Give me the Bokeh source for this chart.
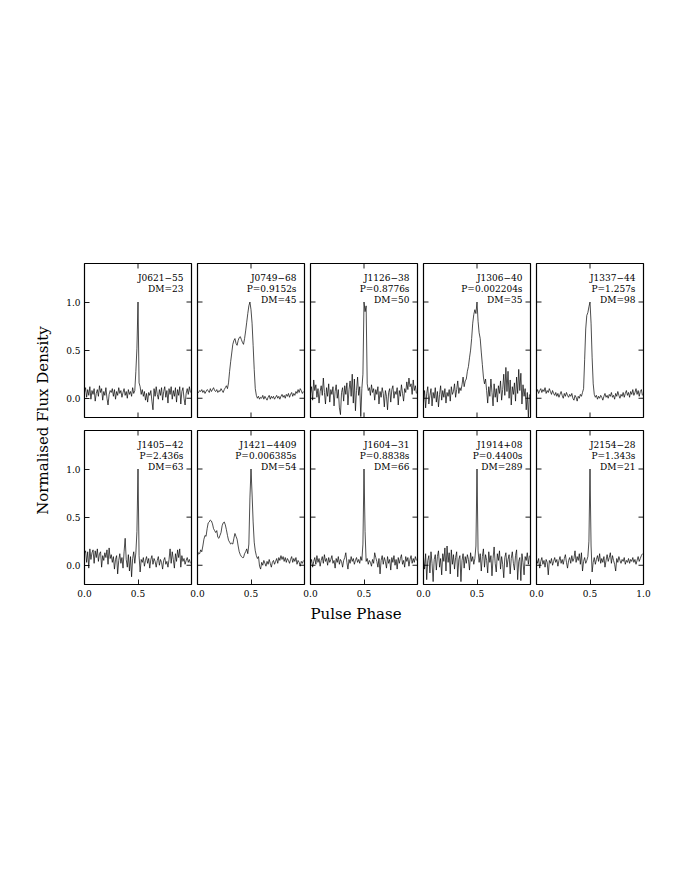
import numpy as np
from bokeh.plotting import figure
from bokeh.models import LinearAxis, FixedTicker, Range1d, Spacer, NumeralTickFormatter
from bokeh.layouts import row, column
from bokeh.embed import file_html
from bokeh.resources import INLINE
from bokeh.core.properties import value

FONT = "DejaVu Serif"

# ---------------- data ----------------
names = ["J0621\u221255", "J0749\u221268", "J1126\u221238", "J1306\u221240", "J1337\u221244",
         "J1405\u221242", "J1421\u22124409", "J1604\u221231", "J1914+08", "J2154\u221228"]
periods = ["", "0.9152", "0.8776", "0.002204", "1.257",
           "2.436", "0.006385", "0.8838", "0.4400", "1.343"]
dms = ["23", "45", "50", "35", "98", "63", "54", "66", "289", "21"]

prof_J0621 = [0.06, 0.11, 0.01, 0.09, 0.03, 0.12, -0.01, 0.08, 0.04, 0.10,
              -0.03, 0.05, 0.09, 0.02, 0.13, 0.06, 0.10, -0.02, 0.07, 0.03,
              0.11, 0.00, -0.07, 0.04, 0.08, 0.06, 0.10, 0.02, 0.09, -0.01,
              0.07, 0.03, 0.11, 0.05, 0.08, 0.01, 0.06, 0.10, 0.03, 0.07,
              0.00, 0.09, 0.04, 0.07, 0.02, 0.11, 0.05, 0.08, 0.28, 0.52,
              1.00, 0.16, 0.12, 0.04, 0.09, 0.02, 0.07, -0.02, 0.05, -0.04,
              0.06, 0.03, 0.08, -0.03, -0.12, 0.10, 0.02, 0.12, 0.04, -0.01,
              0.09, 0.03, 0.11, -0.02, 0.07, 0.12, 0.01, 0.08, -0.05, 0.10,
              0.04, 0.12, -0.01, 0.08, 0.02, 0.11, -0.04, 0.09, 0.03, 0.12,
              -0.06, 0.07, 0.11, 0.00, -0.07, 0.05, 0.10, 0.04, 0.12, 0.06]
prof_J0749 = [0.07, 0.06, 0.08, 0.07, 0.09, 0.06, 0.08, 0.05, 0.07, 0.09,
              0.08, 0.06, 0.10, 0.07, 0.09, 0.11, 0.08, 0.07, 0.09, 0.06,
              0.08, 0.07, 0.10, 0.08, 0.06, 0.09, 0.11, 0.13, 0.10, 0.16,
              0.28, 0.38, 0.47, 0.56, 0.60, 0.62, 0.57, 0.55, 0.60, 0.63,
              0.64, 0.61, 0.58, 0.56, 0.62, 0.70, 0.79, 0.88, 0.96, 1.00,
              0.92, 0.78, 0.55, 0.30, 0.10, 0.03, 0.00, 0.02, -0.01, 0.01,
              0.00, 0.03, -0.01, 0.02, 0.00, -0.02, 0.01, 0.03, -0.01, 0.02,
              0.00, 0.02, -0.01, 0.01, 0.03, 0.00, 0.02, -0.01, 0.02, 0.04,
              0.01, 0.03, 0.00, 0.04, 0.02, 0.05, 0.01, 0.04, 0.06, 0.02,
              0.05, 0.03, 0.07, 0.05, 0.09, 0.06, 0.10, 0.08, 0.05, 0.07]
prof_J1126 = [0.05, 0.12, -0.02, 0.19, 0.08, 0.14, 0.01, 0.10, -0.05, 0.07,
              0.13, 0.03, 0.21, 0.06, -0.06, 0.11, 0.02, 0.15, -0.04, 0.09,
              0.04, 0.12, -0.08, 0.07, 0.14, 0.00, 0.09, -0.10, -0.17, 0.06,
              0.11, -0.03, 0.13, 0.04, 0.16, -0.07, 0.09, 0.18, 0.02, 0.25,
              -0.05, 0.20, -0.13, 0.08, 0.22, 0.03, 0.12, -0.19, 0.10, 0.25,
              1.00, 0.90, 0.96, 0.15, 0.08, 0.11, 0.03, 0.14, 0.06, 0.10,
              -0.02, 0.09, 0.04, 0.12, -0.06, 0.07, 0.01, 0.11, 0.05, -0.09,
              0.08, 0.02, -0.12, 0.06, 0.10, -0.04, 0.09, 0.13, 0.00, 0.07,
              0.04, 0.11, -0.07, 0.08, 0.02, 0.14, 0.05, -0.03, 0.10, 0.06,
              0.17, 0.09, 0.21, 0.12, 0.15, 0.04, 0.19, 0.08, 0.13, 0.05]
prof_J1306 = [-0.05, 0.08, -0.10, 0.05, 0.12, -0.06, 0.03, 0.10, -0.08, 0.06,
              0.00, 0.11, -0.04, 0.07, -0.09, 0.04, 0.13, -0.02, 0.08, 0.01,
              0.10, -0.05, 0.06, 0.02, 0.09, -0.03, 0.12, 0.04, 0.07, 0.15,
              0.01, 0.09, 0.18, 0.05, 0.11, 0.08, 0.14, 0.22, 0.12, 0.18,
              0.20, 0.28, 0.33, 0.42, 0.50, 0.62, 0.78, 0.87, 0.92, 0.88,
              1.00, 0.80, 0.68, 0.62, 0.48, 0.35, 0.22, 0.15, 0.20, 0.08,
              -0.05, 0.12, 0.02, 0.20, 0.06, -0.08, 0.15, 0.01, 0.10, -0.04,
              0.13, 0.05, 0.18, -0.02, 0.09, 0.25, 0.03, 0.32, 0.07, 0.28,
              0.00, 0.19, -0.07, 0.12, 0.04, 0.16, -0.03, 0.22, 0.05, 0.30,
              0.08, 0.26, -0.06, 0.14, 0.02, 0.10, -0.12, 0.06, -0.20, 0.04]
prof_J1337 = [0.06, 0.09, 0.05, 0.08, 0.10, 0.06, 0.09, 0.07, 0.11, 0.05,
              0.08, 0.06, 0.10, 0.07, 0.04, 0.08, 0.05, 0.03, 0.06, 0.02,
              0.05, 0.01, 0.04, 0.07, 0.03, 0.00, 0.05, 0.02, 0.06, 0.03,
              0.01, 0.04, 0.02, 0.05, 0.00, -0.02, 0.03, 0.01, -0.03, 0.02,
              0.00, 0.04, 0.02, 0.06, 0.10, 0.40, 0.72, 0.86, 0.89, 0.95,
              1.00, 0.78, 0.42, 0.15, 0.04, 0.01, 0.03, -0.01, 0.02, 0.00,
              0.03, 0.01, -0.02, 0.02, 0.05, 0.01, 0.03, 0.00, 0.04, 0.02,
              0.06, 0.01, 0.03, -0.01, 0.05, 0.02, 0.07, 0.03, 0.00, 0.04,
              0.02, 0.06, 0.01, 0.05, 0.08, 0.03, 0.06, 0.01, 0.07, 0.04,
              0.09, 0.03, 0.06, 0.10, 0.04, 0.08, 0.02, 0.07, 0.09, 0.03]
prof_J1405 = [0.12, 0.15, 0.03, 0.14, -0.03, 0.17, 0.06, 0.13, 0.16, 0.02,
              0.15, 0.08, 0.17, 0.04, 0.12, 0.14, -0.02, 0.10, 0.05, 0.13,
              0.08, 0.16, 0.01, 0.18, 0.07, 0.11, 0.03, 0.09, -0.04, 0.06,
              0.10, -0.09, 0.05, 0.12, 0.02, 0.08, -0.03, 0.14, 0.28, 0.06,
              -0.02, 0.11, -0.06, 0.09, -0.12, 0.07, 0.14, 0.02, 0.13, 0.35,
              1.00, 0.10, -0.07, 0.06, 0.03, 0.08, -0.01, 0.05, 0.09, 0.02,
              0.07, -0.03, 0.06, 0.10, 0.01, 0.07, 0.04, -0.02, 0.05, 0.09,
              0.00, 0.06, 0.03, -0.04, 0.05, 0.08, 0.01, 0.04, -0.02, 0.06,
              0.17, 0.02, 0.14, 0.06, -0.03, 0.12, 0.04, 0.16, 0.08, 0.17,
              -0.02, 0.10, 0.04, 0.07, 0.01, 0.05, 0.08, 0.03, 0.06, 0.02]
prof_J1421 = [0.10, 0.13, 0.12, 0.16, 0.14, 0.20, 0.27, 0.31, 0.30, 0.38,
              0.44, 0.45, 0.47, 0.46, 0.43, 0.38, 0.36, 0.34, 0.36, 0.29,
              0.28, 0.31, 0.34, 0.41, 0.44, 0.45, 0.42, 0.37, 0.31, 0.26,
              0.24, 0.22, 0.23, 0.22, 0.28, 0.33, 0.30, 0.27, 0.20, 0.14,
              0.11, 0.09, 0.08, 0.08, 0.12, 0.14, 0.17, 0.12, 0.22, 0.70,
              1.00, 0.74, 0.45, 0.24, 0.15, 0.10, 0.07, 0.09, -0.01, -0.04,
              0.03, 0.00, 0.05, 0.02, -0.01, 0.04, 0.01, 0.06, 0.02, -0.02,
              0.03, 0.05, 0.01, 0.04, 0.07, 0.02, 0.08, 0.05, 0.10, 0.06,
              0.09, 0.04, 0.08, 0.03, 0.07, 0.05, 0.02, 0.06, 0.09, 0.03,
              0.07, 0.04, 0.08, 0.01, 0.05, 0.03, -0.01, 0.04, 0.02, 0.05]
prof_J1604 = [0.02, 0.06, -0.02, 0.04, 0.08, 0.01, 0.10, 0.03, 0.07, -0.01,
              0.05, 0.09, 0.02, 0.11, 0.04, 0.07, 0.00, 0.08, 0.03, 0.06,
              0.10, 0.02, 0.05, -0.03, 0.07, 0.03, 0.09, 0.01, 0.06, 0.04,
              -0.02, 0.05, 0.08, 0.13, 0.03, -0.04, 0.06, 0.02, 0.09, 0.04,
              0.07, 0.01, 0.05, 0.08, 0.03, 0.06, 0.02, 0.09, 0.05, 0.22,
              1.00, 0.35, 0.04, 0.07, 0.01, 0.05, 0.03, -0.01, 0.06, 0.02,
              0.13, 0.08, 0.04, -0.02, 0.07, -0.09, 0.05, 0.10, 0.01, 0.08,
              0.04, -0.03, 0.09, 0.02, 0.06, -0.05, 0.08, 0.03, 0.10, 0.00,
              0.06, -0.04, 0.08, 0.02, 0.07, 0.11, 0.01, 0.05, -0.02, 0.09,
              0.04, 0.08, -0.01, 0.06, 0.10, 0.02, 0.07, 0.03, 0.09, 0.05]
prof_J1914 = [0.08, -0.04, 0.12, -0.15, 0.05, 0.10, -0.08, 0.14, 0.02, -0.17,
              0.06, 0.11, -0.05, 0.09, 0.15, -0.02, 0.07, -0.10, 0.12, 0.04,
              0.18, -0.06, 0.20, 0.03, 0.13, -0.09, 0.16, 0.01, 0.11, -0.04,
              0.08, 0.14, -0.12, 0.06, 0.10, -0.17, 0.05, 0.12, -0.03, 0.09,
              0.02, 0.11, 0.06, -0.05, 0.13, 0.04, 0.09, 0.01, 0.07, 0.20,
              1.00, 0.15, 0.03, 0.12, -0.06, 0.09, 0.17, -0.02, 0.11, 0.05,
              -0.08, 0.14, 0.03, 0.10, -0.11, 0.07, 0.19, 0.02, -0.07, 0.12,
              0.05, 0.15, -0.04, 0.09, 0.01, -0.13, 0.08, 0.13, -0.02, 0.06,
              0.11, -0.09, 0.07, 0.14, 0.02, -0.05, 0.10, 0.16, -0.15, 0.04,
              0.08, -0.16, 0.12, 0.03, -0.10, 0.09, 0.05, 0.13, 0.01, 0.10]
prof_J2154 = [0.06, 0.02, 0.07, -0.03, 0.04, 0.08, 0.01, 0.05, -0.02, 0.06,
              0.03, -0.10, 0.05, 0.02, 0.07, 0.00, 0.04, 0.08, 0.03, 0.06,
              -0.01, 0.05, 0.09, 0.02, 0.06, 0.01, 0.07, 0.11, 0.03, -0.03,
              0.05, 0.08, 0.02, 0.10, 0.04, 0.07, 0.15, 0.03, 0.09, 0.05,
              0.12, 0.01, 0.13, -0.06, 0.04, 0.08, 0.02, 0.05, 0.09, 0.25,
              1.00, 0.20, -0.07, 0.03, 0.08, 0.01, 0.06, 0.10, 0.04, 0.12,
              0.02, 0.07, 0.03, 0.09, -0.02, 0.05, 0.11, 0.04, 0.08, 0.13,
              0.02, 0.10, 0.05, 0.01, -0.06, 0.07, 0.03, 0.09, 0.05, 0.02,
              0.06, 0.04, 0.08, 0.01, 0.05, 0.03, 0.07, 0.02, 0.06, 0.04,
              0.08, 0.03, 0.06, 0.01, 0.05, 0.09, 0.04, 0.07, 0.10, 0.12]

profiles = [prof_J0621, prof_J0749, prof_J1126, prof_J1306, prof_J1337,
            prof_J1405, prof_J1421, prof_J1604, prof_J1914, prof_J2154]

x_ticks = [0.0, 0.5, 1.0]
y_ticks = [0.0, 0.5, 1.0]

# ---------------- layout constants ----------------
FW, FH = 107, 154
TICK = 5
X0, X1, Y0, Y1 = 0.0, 1.0, -0.2, 1.4


def style_axis(ax, ticks, standoff):
    ax.ticker = FixedTicker(ticks=ticks)
    ax.formatter = NumeralTickFormatter(format="0.0")
    ax.major_tick_in = TICK
    ax.major_tick_out = 0
    ax.minor_tick_in = 0
    ax.minor_tick_out = 0
    ax.axis_line_color = None
    ax.major_tick_line_color = "black"
    ax.major_tick_line_width = 0.9
    ax.major_label_text_font = FONT
    ax.major_label_text_font_size = "9px"
    ax.major_label_text_color = "black"
    ax.major_label_standoff = standoff


def tick_rays(p, xs, ys, angle):
    p.ray(x=xs, y=ys, length=TICK, length_units="screen", angle=angle,
          line_color="black", line_width=0.9)


def make_panel(i):
    r, c = divmod(i, 5)
    left = c == 0
    bottom = r == 1
    last = c == 4
    p = figure(frame_width=FW, frame_height=FH,
               x_range=Range1d(X0, X1), y_range=Range1d(Y0, Y1),
               x_axis_type=None, y_axis_type=None,
               output_backend="svg", toolbar_location=None,
               min_border_left=30 if left else 10,
               min_border_right=10,
               min_border_top=5 if r == 0 else 7,
               min_border_bottom=16 if bottom else 6)
    p.outline_line_color = "black"
    p.outline_line_width = 1.2
    p.border_fill_color = None
    p.background_fill_color = "white"
    if not left:
        p.margin = (0, 0, 0, -14)

    # bottom side
    if bottom:
        ax_b = LinearAxis()
        style_axis(ax_b, x_ticks if last else x_ticks[:2], 5)
        p.add_layout(ax_b, "below")
    else:
        tick_rays(p, x_ticks, [Y0] * len(x_ticks), np.pi / 2)
    # top side
    tick_rays(p, x_ticks, [Y1] * len(x_ticks), -np.pi / 2)
    # left side
    if left:
        ax_l = LinearAxis()
        style_axis(ax_l, y_ticks, 4)
        p.add_layout(ax_l, "left")
    else:
        tick_rays(p, [X0] * len(y_ticks), y_ticks, 0.0)
    # right side
    tick_rays(p, [X1] * len(y_ticks), y_ticks, np.pi)

    vals = profiles[i]
    phase = np.arange(len(vals)) / len(vals)
    p.line(phase, vals, line_color="black", line_width=0.7)

    lines = [names[i]]
    if periods[i]:
        lines.append("P=" + periods[i] + "s")
    lines.append("DM=" + dms[i])
    ys = [1.25, 1.135, 1.02][:len(lines)]
    p.text(x=[0.925] * len(lines), y=ys, text=lines,
           text_font=value(FONT), text_font_size="9px",
           text_align="right", text_baseline="middle", text_color="black")
    return p


panels = [make_panel(i) for i in range(10)]
top_row = row(*panels[:5])
bot_row = row(*panels[5:])

TOP_H = 5 + FH + 6
BOT_H = 7 + FH + 16
XL_H = 24
H = TOP_H + BOT_H + XL_H

# y label strip
YL_W = 54
ylab = figure(width=YL_W, height=H, x_range=Range1d(0, YL_W), y_range=Range1d(0, H),
              x_axis_type=None, y_axis_type=None, min_border=0,
              output_backend="svg", toolbar_location=None)
ylab.outline_line_color = None
ylab.text(x=[42], y=[H - 162], text=["Normalised Flux Density"], angle=np.pi / 2,
          text_font=value(FONT), text_font_size="15px", text_align="center",
          text_baseline="alphabetic", text_color="black")

# x label strip
XL_W = 600
xlab = figure(width=XL_W, height=XL_H, x_range=Range1d(0, XL_W), y_range=Range1d(0, XL_H),
              x_axis_type=None, y_axis_type=None, min_border=0,
              output_backend="svg", toolbar_location=None)
xlab.outline_line_color = None
xlab.text(x=[301.5], y=[11], text=["Pulse Phase"],
          text_font=value(FONT), text_font_size="15px", text_align="center",
          text_baseline="alphabetic", text_color="black")

layout = column(Spacer(height=258, width=10),
                row(ylab, column(top_row, bot_row, xlab)))

open("out.html", "w").write(file_html(layout, INLINE))
